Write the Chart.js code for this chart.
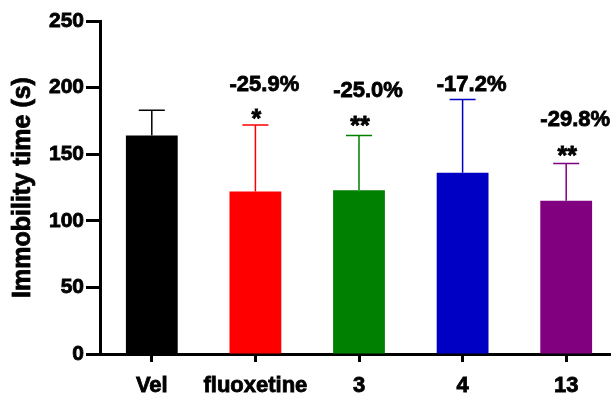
<!DOCTYPE html>
<html>
<head>
<meta charset="utf-8">
<script src="https://cdn.jsdelivr.net/npm/chart.js@4"></script>
<style>
    html, body { margin: 0; padding: 0; background: #fff; overflow: hidden; }
    canvas { display: block; }
</style>
</head>
<body>
<canvas id="immobility" width="618" height="398"></canvas>
<script>
// Daten
const categories = ['Vel', 'fluoxetine', '3', '4', '13'];
const meanValues = [164, 122, 123, 136, 115];
const errorValues = [19, 50, 41, 55, 28];
const barColors = ['#000000', '#ff0000', '#008000', '#0000c4', '#800080'];
const percentLabels = ['', '-25.9%', '-25.0%', '-17.2%', '-29.8%'];
const percentLevels = [null, 202, 197.5, 202, 175.5];
const starLabels = ['', '*', '**', '', '**'];
const starLevels = [null, 180, 175, null, 152.5];
const yTitle = 'Immobility time (s)';

const fontFamily = "'Liberation Sans', Arial, Helvetica, sans-serif";

function boldText(ctx, t, px, py) {
    ctx.fillText(t, px, py);
    ctx.strokeText(t, px, py);
}

// Fehlerbalken + Beschriftungen
const errorBars = {
    id: 'errorBars',
    afterDatasetsDraw(chart) {
        const { ctx, chartArea: { top, bottom }, scales: { x, y } } = chart;
        ctx.save();
        meanValues.forEach((v, i) => {
            const cx = x.getPixelForValue(i);
            const yTop = y.getPixelForValue(v + errorValues[i]);
            const yBar = y.getPixelForValue(v);
            ctx.strokeStyle = barColors[i];
            ctx.lineWidth = 1.5;
            ctx.beginPath();
            ctx.moveTo(cx, yBar);
            ctx.lineTo(cx, yTop);
            ctx.moveTo(cx - 13, yTop);
            ctx.lineTo(cx + 13, yTop);
            ctx.stroke();
        });
        ctx.fillStyle = '#000';
        ctx.strokeStyle = '#000';
        ctx.lineWidth = 0.8;
        ctx.textAlign = 'center';
        ctx.textBaseline = 'middle';
        percentLabels.forEach((t, i) => {
            if (!t) return;
            ctx.font = 'bold 22px ' + fontFamily;
            boldText(ctx, t, x.getPixelForValue(i) + 9, y.getPixelForValue(percentLevels[i]));
        });
        starLabels.forEach((t, i) => {
            if (!t) return;
            ctx.font = 'bold 25px ' + fontFamily;
            boldText(ctx, t, x.getPixelForValue(i) + 1, y.getPixelForValue(starLevels[i]) + 6);
        });
        // y-Achsentitel
        ctx.save();
        ctx.translate(23, (top + bottom) / 2);
        ctx.rotate(-Math.PI / 2);
        ctx.font = 'bold 25px ' + fontFamily;
        boldText(ctx, yTitle, 0, 0);
        ctx.restore();
        ctx.restore();
    }
};

const ctxEl = document.getElementById('immobility');
new Chart(ctxEl, {
    type: 'bar',
    data: {
        labels: categories,
        datasets: [{
            data: meanValues,
            backgroundColor: barColors,
            borderWidth: 0,
            barPercentage: 0.5,
            categoryPercentage: 1
        }]
    },
    options: {
        responsive: false,
        animation: false,
        layout: { padding: { top: 21, left: 0, right: 0, bottom: 0 } },
        plugins: {
            legend: { display: false },
            tooltip: { enabled: false }
        },
        scales: {
            y: {
                min: 0,
                max: 250,
                ticks: {
                    stepSize: 50,
                    color: '#000',
                    padding: 2,
                    textStrokeColor: '#000',
                    textStrokeWidth: 0.8,
                    font: { family: fontFamily, size: 21, weight: 'bold' }
                },
                grid: {
                    drawOnChartArea: false,
                    tickLength: 14,
                    tickWidth: 3,
                    tickColor: '#000'
                },
                border: { display: true, width: 3, color: '#000' },
                afterFit(scale) { scale.width = 100; }
            },
            x: {
                ticks: {
                    color: '#000',
                    padding: 11,
                    autoSkip: false,
                    maxRotation: 0,
                    minRotation: 0,
                    textStrokeColor: '#000',
                    textStrokeWidth: 0.8,
                    font: { family: fontFamily, size: 22, weight: 'bold' }
                },
                grid: {
                    offset: false,
                    drawOnChartArea: false,
                    tickLength: 8,
                    tickWidth: 3,
                    tickColor: '#000'
                },
                border: { display: true, width: 3, color: '#000' },
                afterFit(scale) { scale.height = 44; }
            }
        }
    },
    plugins: [errorBars]
});
</script>
</body>
</html>
